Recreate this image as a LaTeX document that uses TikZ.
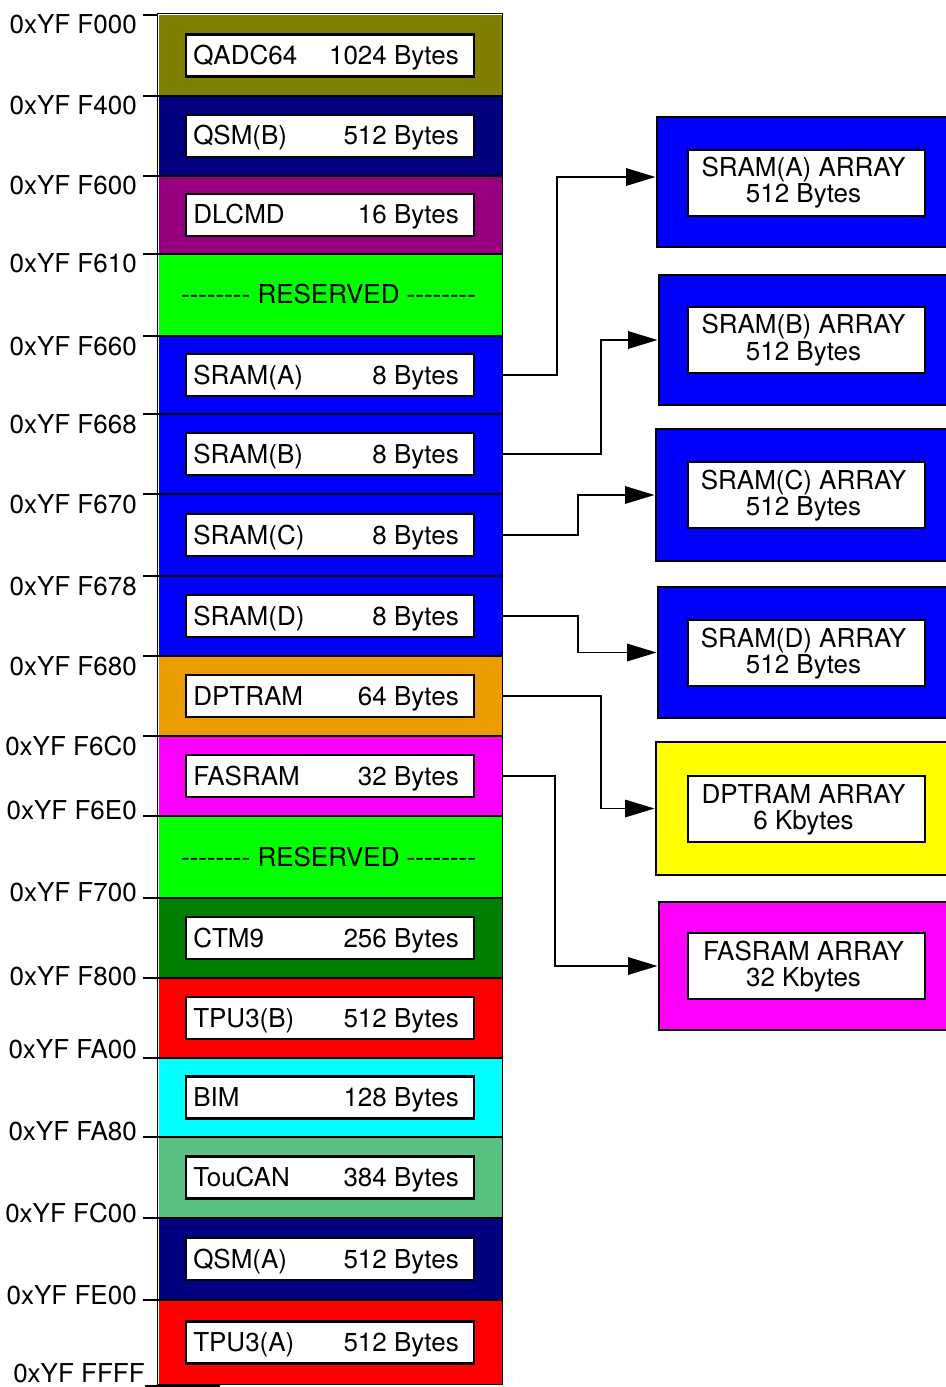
\documentclass[tikz,border=0pt]{standalone}
\usepackage{fontspec}
\setmainfont{TeX Gyre Heros}[Ligatures=TeXOff]
\usetikzlibrary{arrows.meta}

\definecolor{cOlive}{HTML}{808000}
\definecolor{cNavy}{HTML}{000080}
\definecolor{cPurple}{HTML}{960080}
\definecolor{cLime}{HTML}{00FF00}
\definecolor{cBlue}{HTML}{0000FF}
\definecolor{cOrange}{HTML}{EB9C00}
\definecolor{cMagenta}{HTML}{FF00FF}
\definecolor{cDkGreen}{HTML}{007F00}
\definecolor{cRed}{HTML}{FF0000}
\definecolor{cCyan}{HTML}{00FFFF}
\definecolor{cSea}{HTML}{58C080}
\definecolor{cYellow}{HTML}{FFFF00}

\newcommand\fs{\fontsize{19.5}{20}\selectfont}

\tikzset{
  rowfill/.style={draw=none, inner sep=0pt, outer sep=0pt, minimum width=257.25pt},
  slot/.style={draw=black, line width=2.2pt, fill=white, inner sep=0pt,
               minimum width=216pt, minimum height=31.5pt},
  txt/.style={font=\fs, inner sep=0pt},
  sepline/.style={line width=1.6pt},
  frame/.style={line width=0.7pt},
  outerbox/.style={draw=black, line width=2.2pt, inner sep=0pt},
  arrslot/.style={draw=black, line width=2.2pt, fill=white, inner sep=0pt,
                  minimum width=177.75pt, minimum height=49.5pt},
  conn/.style={line width=1.4pt, -{Triangle[length=22pt,width=13pt]}},
}

% one memory block: name, top, bottom, colour, module, size
\newcommand\memrow[6]{%
  \node[rowfill, fill=#4, minimum height={(#3-#2)*0.75pt}] (#1) at (330.5,{(#2+#3)/2}) {};
  \node[slot] (#1s) at (330,{(#2+#3)/2}) {};
  \node[txt, anchor=base west] at (193,{(#2+#3)/2+9}) {#5};
  \node[txt, anchor=base east] at (459,{(#2+#3)/2+9}) {#6};
}
% reserved block: name, top, bottom
\newcommand\resrow[3]{%
  \node[rowfill, fill=cLime, minimum height={(#3-#2)*0.75pt}] (#1) at (330.5,{(#2+#3)/2}) {};
  \node[txt, anchor=base] at (328.5,{(#2+#3)/2+9}) {-------- RESERVED --------};
}
% address tick: boundary y, label baseline y, label text
\newcommand\addr[3]{%
  \draw[sepline] (143,#1) -- (502,#1);
  \node[txt, anchor=base east] at (137,#2) {#3};
}
% array block on the right: name, left, top, bottom, colour, inner top, line 1, line 2
\newcommand\arraybox[8]{%
  \node[outerbox, fill=#5, minimum width={(950-#2)*0.75pt}, minimum height={(#4-#3)*0.75pt}]
       (#1) at ({(#2+950)/2},{(#3+#4)/2}) {};
  \node[arrslot] (#1s) at (806.5,{#6+33}) {};
  \node[txt, anchor=base] at (803.5,{#6+27}) {#7};
  \node[txt, anchor=base] at (803.5,{#6+53}) {#8};
}

\begin{document}
\begin{tikzpicture}[x=0.75pt,y=-0.75pt]
\useasboundingbox (0,0) rectangle (945,1387);

% memory map column
\memrow{qadc}{15}{96}{cOlive}{QADC64}{1024 Bytes}
\memrow{qsmb}{96}{176}{cNavy}{QSM(B)}{512 Bytes}
\memrow{dlcmd}{176}{254}{cPurple}{DLCMD}{16 Bytes}
\resrow{resA}{254}{336}
\memrow{sA}{336}{414}{cBlue}{SRAM(A)}{8 Bytes}
\memrow{sB}{414}{494}{cBlue}{SRAM(B)}{8 Bytes}
\memrow{sC}{494}{576}{cBlue}{SRAM(C)}{8 Bytes}
\memrow{sD}{576}{656}{cBlue}{SRAM(D)}{8 Bytes}
\memrow{dpt}{656}{736}{cOrange}{DPTRAM}{64 Bytes}
\memrow{fas}{736}{816}{cMagenta}{FASRAM}{32 Bytes}
\resrow{resB}{816}{898}
\memrow{ctm}{898}{978}{cDkGreen}{CTM9}{256 Bytes}
\memrow{tpub}{978}{1058}{cRed}{TPU3(B)}{512 Bytes}
\memrow{bim}{1058}{1137}{cCyan}{BIM}{128 Bytes}
\memrow{toucan}{1137}{1218}{cSea}{TouCAN}{384 Bytes}
\memrow{qsma}{1218}{1300}{cNavy}{QSM(A)}{512 Bytes}
\memrow{tpua}{1300}{1385}{cRed}{TPU3(A)}{512 Bytes}

% column outline
\draw[frame] (157.5,13) -- (502.5,13) -- (502.5,1384) -- (157.5,1384) -- cycle;

% address boundaries
\draw[sepline] (143,15) -- (158,15);
\node[txt, anchor=base east] at (137,34) {0xYF F000};
\addr{96}{115}{0xYF F400}
\addr{176}{195}{0xYF F600}
\addr{254}{273}{0xYF F610}
\addr{336}{355}{0xYF F660}
\addr{414}{433}{0xYF F668}
\addr{494}{513}{0xYF F670}
\addr{576}{595}{0xYF F678}
\addr{656}{675}{0xYF F680}
\addr{736}{755}{0xYF F6C0}
\addr{816}{819}{0xYF F6E0}
\addr{898}{901}{0xYF F700}
\addr{978}{985}{0xYF F800}
\addr{1058}{1058}{0xYF FA00}
\addr{1137}{1140}{0xYF FA80}
\addr{1218}{1222}{0xYF FC00}
\addr{1300}{1304}{0xYF FE00}
\draw[sepline] (145,1386) -- (220,1386);
\node[txt, anchor=base east] at (145,1382) {0xYF FFFF};

% array blocks
\arraybox{arrA}{657}{117}{247}{cBlue}{150}{SRAM(A) ARRAY}{512 Bytes}
\arraybox{arrB}{659}{275}{405}{cBlue}{307}{SRAM(B) ARRAY}{512 Bytes}
\arraybox{arrC}{656}{429}{561}{cBlue}{462}{SRAM(C) ARRAY}{512 Bytes}
\arraybox{arrD}{658}{587}{718}{cBlue}{620}{SRAM(D) ARRAY}{512 Bytes}
\arraybox{arrE}{656}{742}{875}{cYellow}{776}{DPTRAM ARRAY}{6 Kbytes}
\arraybox{arrF}{659}{902}{1030}{cMagenta}{933}{FASRAM ARRAY}{32 Kbytes}

% connectors
\draw[conn] (sA.east) -- ++(55,0) |- ([yshift=3.75pt]arrA.west);
\draw[conn] (sB.east) -- ++(99,0) |- (arrB.west);
\draw[conn] (sC.east) -- ++(76,0) |- (arrC.west);
\draw[conn] (sD.east) -- ++(76,0) |- (arrD.west);
\draw[conn] (dpt.east) -- ++(99,0) |- (arrE.west);
\draw[conn] (fas.east) -- ++(53,0) |- (arrF.west);
\end{tikzpicture}
\end{document}
